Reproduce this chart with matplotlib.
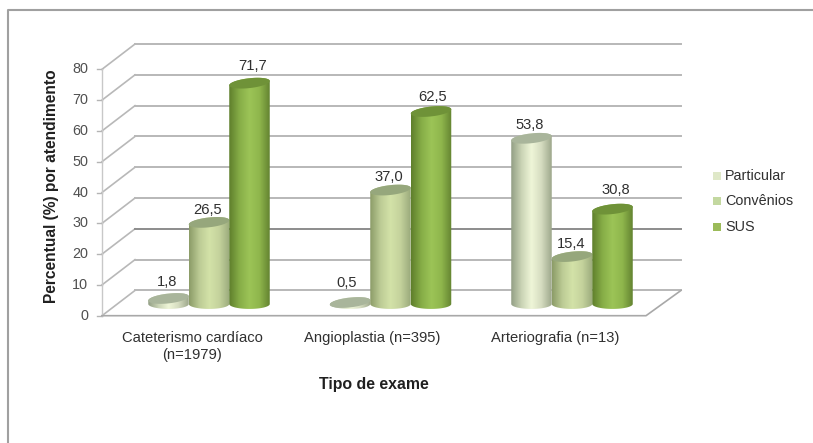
import numpy as np
import matplotlib
matplotlib.use("Agg")
import matplotlib.pyplot as plt
from matplotlib.colors import LinearSegmentedColormap
from matplotlib.patches import Polygon

plt.rcParams['font.family'] = ['Liberation Sans', 'DejaVu Sans']

categorias = ["Cateterismo cardíaco\n(n=1979)", "Angioplastia (n=395)", "Arteriografia (n=13)"]
series = ["Particular", "Convênios", "SUS"]
particular = [1.8, 0.5, 53.8]
convenios = [26.5, 37.0, 15.4]
sus = [71.7, 62.5, 30.8]
rotulos = {"Particular": ["1,8", "0,5", "53,8"],
           "Convênios": ["26,5", "37,0", "15,4"],
           "SUS": ["71,7", "62,5", "30,8"]}
yticks = [0, 10, 20, 30, 40, 50, 60, 70, 80]

# left, centre, right of each cylinder + colour of the top
cores = {"Particular": (["#939f85", "#c9d3b4", "#eff6d8", "#d5dcc0", "#9ea88c"], "#a9b59b"),
         "Convênios": (["#8c9c68", "#bccb95", "#d3e2a8", "#c4d29c", "#9aaa7c"], "#96a77c"),
         "SUS": (["#5f7f2c", "#86ad47", "#9cc457", "#8fb64c", "#648431"], "#6f9238")}
cores_legenda = {"Particular": "#dfe8c8", "Convênios": "#c3d8a0", "SUS": "#9bbb59"}

# label nudges in pixels (up, right)
nudge = {"Particular": [(16.5, -1), (19.5, -3), (13, -2)],
         "Convênios": [(12.4, -1), (13, -2), (12.6, -1)],
         "SUS": [(17, 3), (14.5, 2), (19, 3)]}

W, H = 813, 443
PX_Y = 3.08   # pixels per percent
PX_X = 181.5  # pixels per group
LARG = 40.5 / PX_X
TOPO_A = 1.6   # ellipse half height, in percent
TOPO_T = 0.7   # ellipse tilt
VOLTA = 4.4    # back wall shift
FRENTE = -3.8  # front edge shift


def x_px(px):
    return (px - 209) / PX_X


def y_px(py):
    return (304 - py) / PX_Y


fig = plt.figure(figsize=(W / 100, H / 100), dpi=100)
ax = fig.add_axes([0, 0, 1, 1])
ax.set_xlim(x_px(0), x_px(W))
ax.set_ylim(y_px(H), y_px(0))
ax.axis("off")

# outer frame, only left and top show
ax.plot([x_px(7.5), x_px(7.5), x_px(813)], [y_px(443), y_px(10), y_px(10)],
        color="#a0a0a0", lw=1.5)

# walls
xb0, xb1, xf0, xf1 = x_px(135), x_px(681), x_px(102), x_px(646)
for v in yticks:
    ax.plot([xf0, xb0], [v + FRENTE, v + VOLTA], color="#b8b8b8", lw=1.2)
    cor = "#8c8c8c" if v == 20 else "#b8b8b8"
    ax.plot([xb0, xb1], [v + VOLTA, v + VOLTA], color=cor, lw=1.4)
    ax.plot([x_px(97), xf0], [v + FRENTE, v + FRENTE], color="#b4b4b4", lw=1)
    ax.text(x_px(88), v + FRENTE, str(v), ha="right", va="center", fontsize=10.4, color="#505050")
ax.plot([xf0, xf0], [FRENTE, 80 + FRENTE], color="#c8c8c8", lw=1)
ax.plot([xf0, xf1, xb1], [FRENTE, FRENTE, VOLTA], color="#a8a8a8", lw=1.2)

# cylinders
t = np.linspace(0, 2 * np.pi, 80)
valores = [particular, convenios, sus]
for s, nome in enumerate(series):
    cmap = LinearSegmentedColormap.from_list(nome, cores[nome][0])
    grad = np.linspace(0, 1, 64).reshape(1, -1)
    for g, val in enumerate(valores[s]):
        cx = g + (s - 1) * LARG
        a = LARG / 2
        ang = np.linspace(np.pi, 2 * np.pi, 40)
        base_x = cx + a * np.cos(ang)
        base_y = TOPO_A * np.sin(ang)
        tp = np.linspace(0, np.pi, 40)
        topo_x = cx + a * np.cos(tp)
        topo_y = val + TOPO_A * np.sin(tp) + TOPO_T * np.cos(tp)
        corpo = Polygon(np.column_stack([np.r_[base_x, topo_x], np.r_[base_y, topo_y]]),
                        closed=True, transform=ax.transData, fc="none", ec="none")
        ax.add_patch(corpo)
        im = ax.imshow(grad, cmap=cmap, extent=[cx - a, cx + a, -3, val + 3], aspect="auto", zorder=3 + g * 0.01 + s)
        im.set_clip_path(corpo)
        ax.fill(cx + a * np.cos(t), val + TOPO_A * np.sin(t) + TOPO_T * np.cos(t),
                color=cores[nome][1], lw=0, zorder=3.005 + g * 0.01 + s)
        cima, lado = nudge[nome][g]
        ax.text(cx + lado / PX_X, val + cima / PX_Y, rotulos[nome][g], ha="center", va="center",
                fontsize=10.6, color="#303030", zorder=10)
ax.set_xlim(x_px(0), x_px(W))
ax.set_ylim(y_px(H), y_px(0))

# category labels and axis titles
for px, cat in zip([192, 372.5, 555], categorias):
    ax.text(x_px(px), y_px(331), cat, ha="center", va="top",
            fontsize=10.6, color="#303030", linespacing=1.25)
ax.text(x_px(374), y_px(385), "Tipo de exame", ha="center", va="center", fontsize=11.4,
        fontweight="bold", color="#202020")
ax.text(x_px(52), y_px(186), "Percentual (%) por atendimento", rotation=90, ha="center", va="center",
        fontsize=11.2, fontweight="bold", color="#202020")

# legend
for py, nome in zip([176, 201, 227], series):
    ax.fill([x_px(713), x_px(721), x_px(721), x_px(713)], [y_px(py + 4), y_px(py + 4), y_px(py - 4), y_px(py - 4)],
            color=cores_legenda[nome], lw=0)
    ax.text(x_px(725), y_px(py), nome, ha="left", va="center", fontsize=10.4, color="#303030")

fig.savefig("out.png", dpi=100)
